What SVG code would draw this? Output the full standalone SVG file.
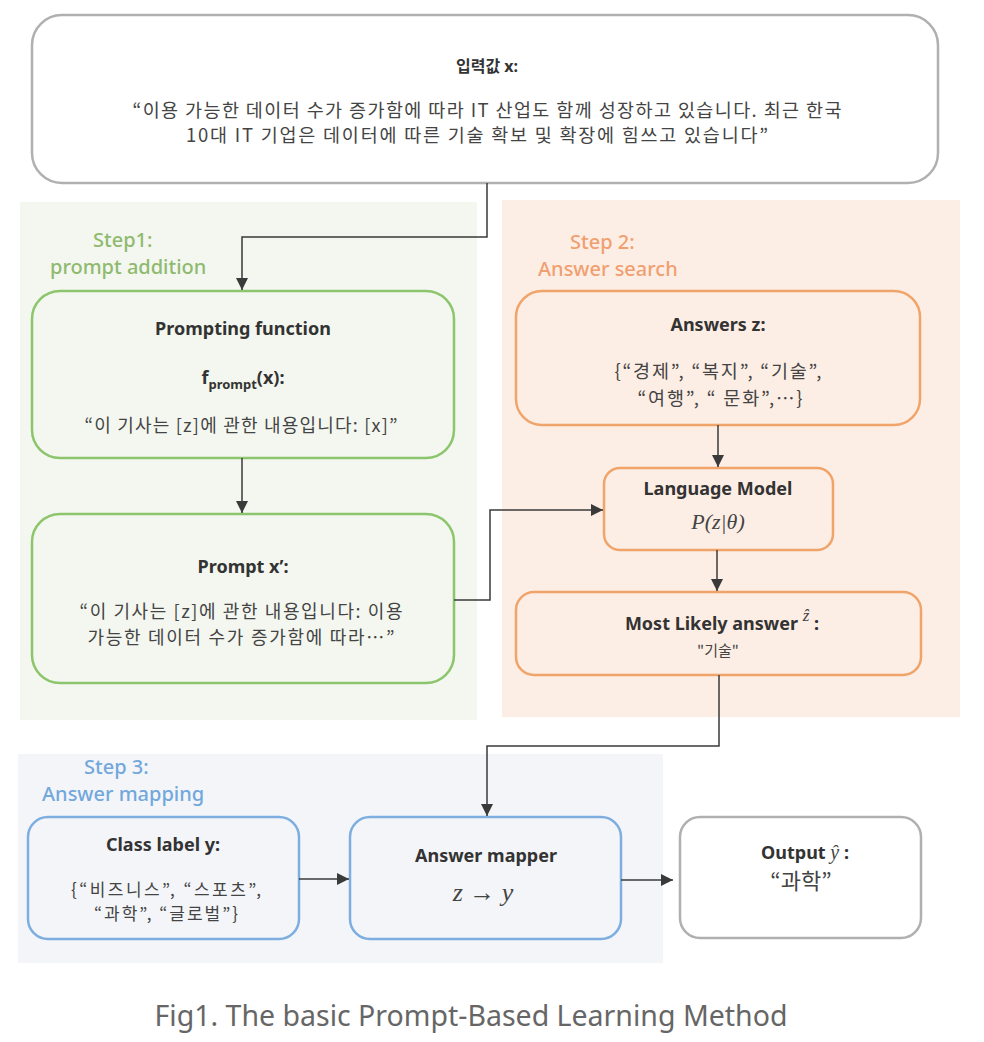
<svg xmlns="http://www.w3.org/2000/svg" width="984" height="1042" viewBox="0 0 984 1042">
<defs>
<marker id="arr" viewBox="0 0 12 12" refX="12" refY="6" markerWidth="12" markerHeight="12" markerUnits="userSpaceOnUse" orient="auto">
<path d="M0,0 L12,6 L0,12 Z" fill="#3a3a3a"/>
</marker>
<style>
.kr{font-family:"Noto Sans CJK KR","Noto Sans",sans-serif;fill:#444;text-anchor:middle}
.tb{font-family:"Noto Sans","Noto Sans CJK KR",sans-serif;font-weight:bold;fill:#333;text-anchor:middle}
.math{font-family:"Liberation Serif","DejaVu Serif",serif;font-style:italic;fill:#444;text-anchor:middle}
.step{font-family:"Noto Sans",sans-serif;font-size:20px;font-weight:500}
.green{fill:none;stroke:#8cc56b;stroke-width:2.5}
.orange{fill:none;stroke:#f0a46a;stroke-width:2.5}
.blue{fill:none;stroke:#7eaee0;stroke-width:2.5}
.gray{fill:#fff;stroke:#b0b0b0;stroke-width:2.5}
.conn{fill:none;stroke:#3a3a3a;stroke-width:1.5;marker-end:url(#arr)}
</style>
</defs>
<rect width="984" height="1042" fill="#fff"/>
<!-- step backgrounds -->
<rect x="20" y="202" width="457" height="518" fill="#f3f7ef"/>
<rect x="502" y="200" width="458" height="517" fill="#fdeee5"/>
<rect x="18" y="754" width="645" height="209" fill="#f3f5f9"/>
<text class="step" x="93" y="247" fill="#8fba6f">Step1:</text>
<text class="step" x="50" y="274" fill="#8fba6f">prompt addition</text>
<text class="step" x="570" y="249" fill="#f0a070">Step 2:</text>
<text class="step" x="538" y="276" fill="#f0a070">Answer search</text>
<text class="step" x="84" y="774" fill="#72a8dc">Step 3:</text>
<text class="step" x="42" y="801" fill="#72a8dc">Answer mapping</text>

<g id="input">
<rect class="gray" x="32" y="15" width="906" height="168" rx="30"/>
<text class="tb" x="487" y="72" font-size="16" font-family="'Noto Sans CJK KR',sans-serif">입력값 x:</text>
<text class="kr" x="487" y="117" font-size="18.5" textLength="709" fill="#333">“이용 가능한 데이터 수가 증가함에 따라 IT 산업도 함께 성장하고 있습니다. 최근 한국</text>
<text class="kr" x="477" y="142" font-size="18.5" textLength="582" fill="#333">10대 IT 기업은 데이터에 따른 기술 확보 및 확장에 힘쓰고 있습니다”</text>
</g>

<g id="prompting-function">
<rect class="green" x="32" y="291" width="422" height="167" rx="28"/>
<text class="tb" x="243" y="335" font-size="18">Prompting function</text>
<text class="tb" x="243" y="384" font-size="18">f<tspan font-size="13" dy="5">prompt</tspan><tspan dy="-5">(x):</tspan></text>
<text class="kr" x="241" y="432" font-size="18" textLength="313">“이 기사는 [z]에 관한 내용입니다: [x]”</text>
</g>

<g id="prompt-x">
<rect class="green" x="32" y="514" width="422" height="169" rx="28"/>
<text class="tb" x="243" y="573" font-size="18">Prompt x’:</text>
<text class="kr" x="241" y="618" font-size="18" textLength="323">“이 기사는 [z]에 관한 내용입니다: 이용</text>
<text class="kr" x="241" y="644" font-size="18" textLength="307">가능한 데이터 수가 증가함에 따라…”</text>
</g>

<g id="answers-z">
<rect class="orange" x="516" y="291" width="404" height="134" rx="26"/>
<text class="tb" x="718" y="331" font-size="18">Answers z:</text>
<text class="kr" x="718" y="378" font-size="18.5" textLength="207">{“경제”, “복지”, “기술”,</text>
<text class="kr" x="720" y="405" font-size="18.5" textLength="165">“여행”,  “ 문화”,…}</text>
</g>

<g id="language-model">
<rect class="orange" x="604" y="468" width="229" height="82" rx="16"/>
<text class="tb" x="718" y="495" font-size="18">Language Model</text>
<text class="math" x="718" y="529" font-size="22">P(z|θ)</text>
</g>

<g id="most-likely">
<rect class="orange" x="516" y="592" width="405" height="83" rx="18"/>
<text class="tb" x="722" y="630" font-size="18">Most Likely answer <tspan class="math" font-size="17" dy="-9" font-weight="normal">ẑ</tspan><tspan dy="9"> :</tspan></text>
<text class="kr" x="718" y="656" font-size="15">"기술"</text>
</g>

<g id="class-label">
<rect class="blue" x="28" y="817" width="271" height="122" rx="20"/>
<text class="tb" x="163" y="851" font-size="18">Class label y:</text>
<text class="kr" x="166" y="896" font-size="17" textLength="190">{“비즈니스”, “스포츠”,</text>
<text class="kr" x="166" y="920" font-size="17" textLength="144">“과학”, “글로벌”}</text>
</g>

<g id="answer-mapper">
<rect class="blue" x="350" y="817" width="271" height="122" rx="20"/>
<text class="tb" x="486" y="862" font-size="18">Answer mapper</text>
<text class="math" x="483" y="901" font-size="26">z → y</text>
</g>

<g id="output">
<rect class="gray" x="680" y="817" width="241" height="121" rx="20"/>
<text class="tb" x="805" y="859" font-size="18">Output <tspan class="math" font-size="20" font-weight="normal">ŷ</tspan> :</text>
<text class="kr" x="801" y="889" font-size="22" fill="#333">“과학”</text>
</g>

<g id="connectors">
<path class="conn" d="M487,183 V237 H242 V290"/>
<path class="conn" d="M242,458 V513"/>
<path class="conn" d="M454,600 H490 V510 H603"/>
<path class="conn" d="M718,425 V467"/>
<path class="conn" d="M717,550 V591"/>
<path class="conn" d="M719,675 V746 H487 V816"/>
<path class="conn" d="M299,879 H349"/>
<path class="conn" d="M621,880 H673"/>
</g>

<text x="471" y="1026" font-family="'Noto Sans',sans-serif" font-size="28.5" fill="#666" text-anchor="middle">Fig1. The basic Prompt-Based Learning Method</text>
</svg>
